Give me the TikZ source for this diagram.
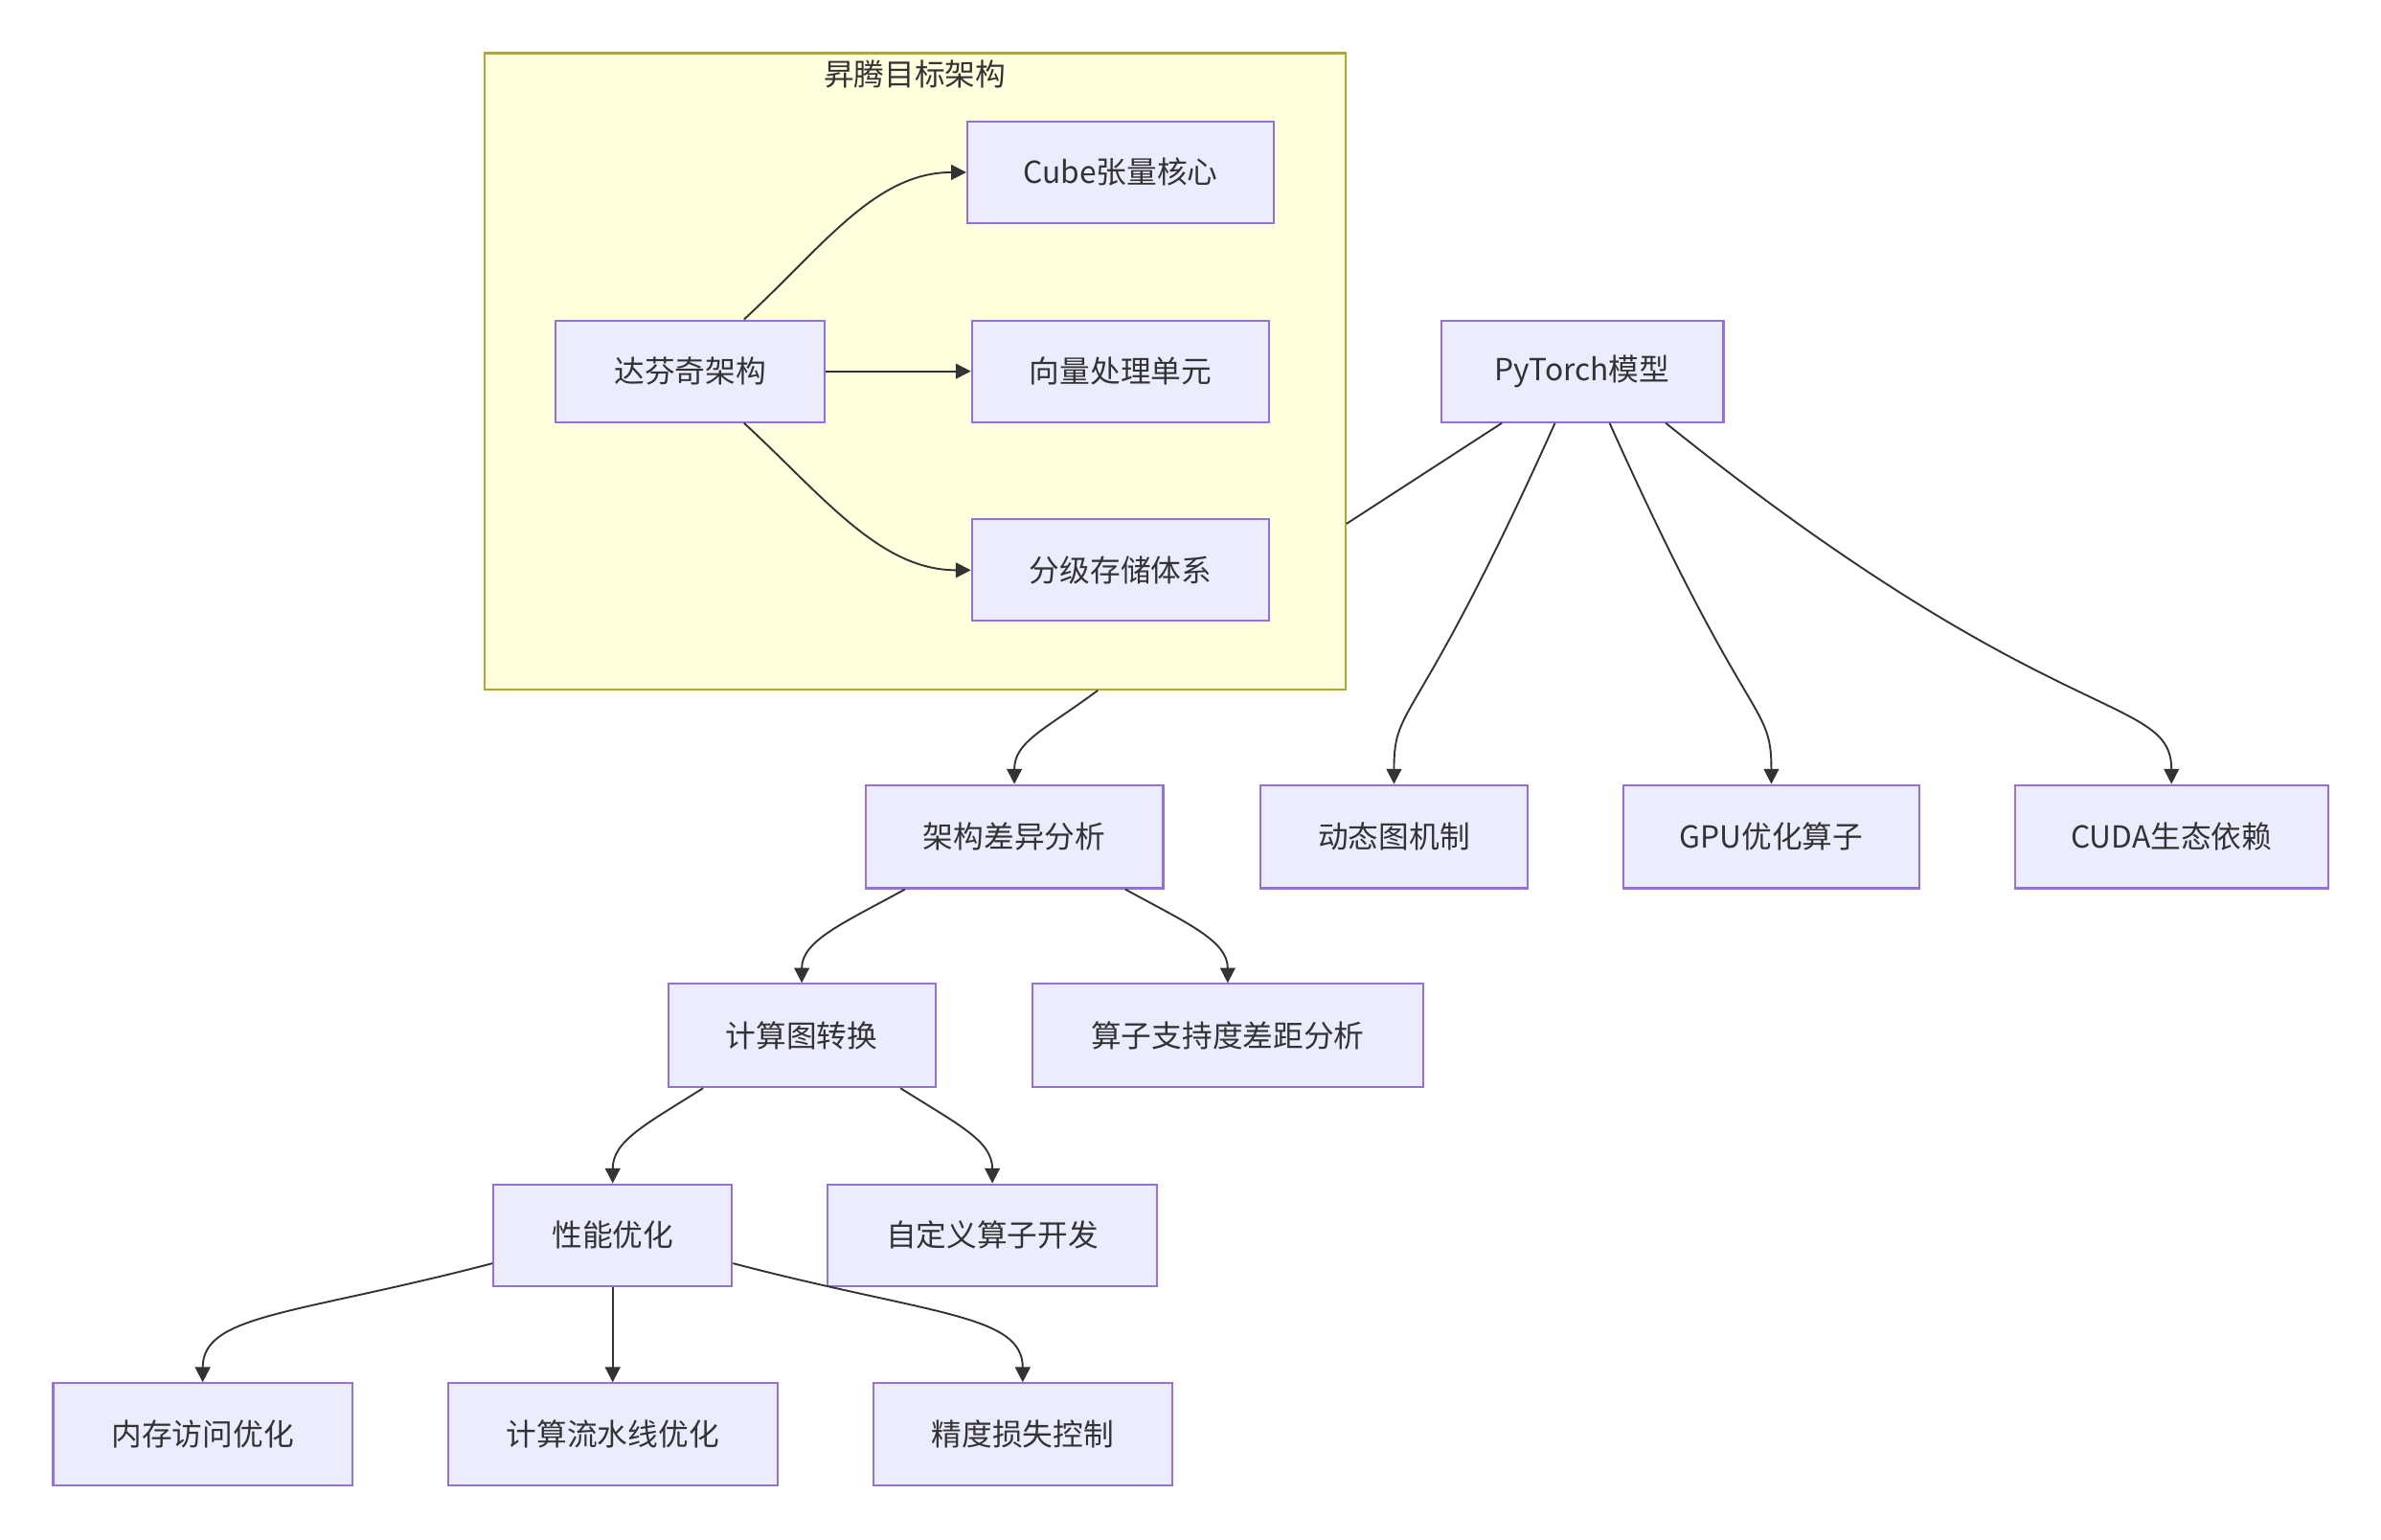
\documentclass[tikz,border=0pt]{standalone}
\usepackage{fontspec}
\setmainfont{Noto Sans CJK SC}
\usetikzlibrary{arrows.meta}
\definecolor{boxfill}{HTML}{ECECFF}
\definecolor{boxline}{HTML}{9370DB}
\definecolor{clufill}{HTML}{FFFFDE}
\definecolor{cluline}{HTML}{AAAA33}
\definecolor{ink}{HTML}{333333}
\begin{document}
\begin{tikzpicture}[x=1pt,y=1pt,
  box/.style={draw=boxline,fill=boxfill,line width=1.3pt,inner sep=0pt,
    minimum height=67pt,text=ink,font=\fontsize{20}{24}\selectfont},
  clusterbox/.style={draw=cluline,fill=clufill,line width=1.3pt,inner sep=0pt},
  edge/.style={draw=ink,line width=1.2pt},
  arr/.style={edge,-{Triangle[length=10pt,width=10pt]}}]
\useasboundingbox (0,0) rectangle (1568,-1013.6);
% cluster
\node[clusterbox,minimum width=567pt,minimum height=419pt] (clu) at (602.5,-244.5) {};
\node[text=ink,font=\fontsize{20}{24}\selectfont] (clutitle) at (602.5,-49) {昇腾目标架构};
% nodes
\node[box,minimum width=177pt] (dfq) at (454.5,-244.5) {达芬奇架构};
\node[box,minimum width=202pt] (cube) at (738,-113.5) {Cube张量核心};
\node[box,minimum width=196pt] (vec) at (738,-244.5) {向量处理单元};
\node[box,minimum width=196pt] (mem) at (738,-375.5) {分级存储体系};
\node[box,minimum width=186pt] (pt) at (1042,-244.5) {PyTorch模型};
\node[box,minimum width=196pt,minimum height=68pt] (arch) at (668,-551) {架构差异分析};
\node[box,minimum width=176pt,minimum height=68pt] (dyn) at (918,-551) {动态图机制};
\node[box,minimum width=195pt,minimum height=68pt] (gpu) at (1166.5,-551) {GPU优化算子};
\node[box,minimum width=206pt,minimum height=68pt] (cuda) at (1430,-551) {CUDA生态依赖};
\node[box,minimum width=176pt,minimum height=68pt] (cg) at (528,-682) {计算图转换};
\node[box,minimum width=257pt,minimum height=68pt] (gap) at (808.5,-682) {算子支持度差距分析};
\node[box,minimum width=157pt] (perf) at (403.5,-813.5) {性能优化};
\node[box,minimum width=217pt] (cust) at (653.5,-813.5) {自定义算子开发};
\node[box,minimum width=197pt] (memacc) at (133.5,-944.5) {内存访问优化};
\node[box,minimum width=217pt] (pipe) at (403.5,-944.5) {计算流水线优化};
\node[box,minimum width=197pt] (prec) at (673.5,-944.5) {精度损失控制};
% edges inside cluster
\draw[arr] ([xshift=35.5pt]dfq.north) .. controls +(52,48) and +(-60,0) .. (cube.west);
\draw[arr] (dfq.east) -- (vec.west);
\draw[arr] ([xshift=35.5pt]dfq.south) .. controls +(52,-48) and +(-60,0) .. (mem.west);
% PyTorch edges
\draw[edge] ([xshift=-53pt]pt.south) -- ([yshift=-100.5pt]clu.east);
\draw[arr] ([xshift=-18pt]pt.south) .. controls +(-92,-205) and +(0,55) .. (dyn.north);
\draw[arr] ([xshift=18pt]pt.south) .. controls +(92,-205) and +(0,55) .. (gpu.north);
\draw[arr] ([xshift=55pt]pt.south) .. controls +(255,-205) and +(0,60) .. (cuda.north);
% cluster to arch
\draw[arr] ([xshift=120.5pt]clu.south) .. controls +(-35,-26) and +(0,28) .. (arch.north);
\draw[arr] ([xshift=-72pt]arch.south) .. controls +(-40,-22) and +(0,28) .. (cg.north);
\draw[arr] ([xshift=73pt]arch.south) .. controls +(40,-22) and +(0,28) .. (gap.north);
\draw[arr] ([xshift=-65pt]cg.south) .. controls +(-38,-24) and +(0,28) .. (perf.north);
\draw[arr] ([xshift=65pt]cg.south) .. controls +(38,-24) and +(0,28) .. (cust.north);
\draw[arr] ([yshift=-18.5pt]perf.west) .. controls +(-130,-34) and +(0,45) .. (memacc.north);
\draw[arr] (perf.south) -- (pipe.north);
\draw[arr] ([yshift=-18.5pt]perf.east) .. controls +(130,-34) and +(0,45) .. (prec.north);
\end{tikzpicture}
\end{document}
